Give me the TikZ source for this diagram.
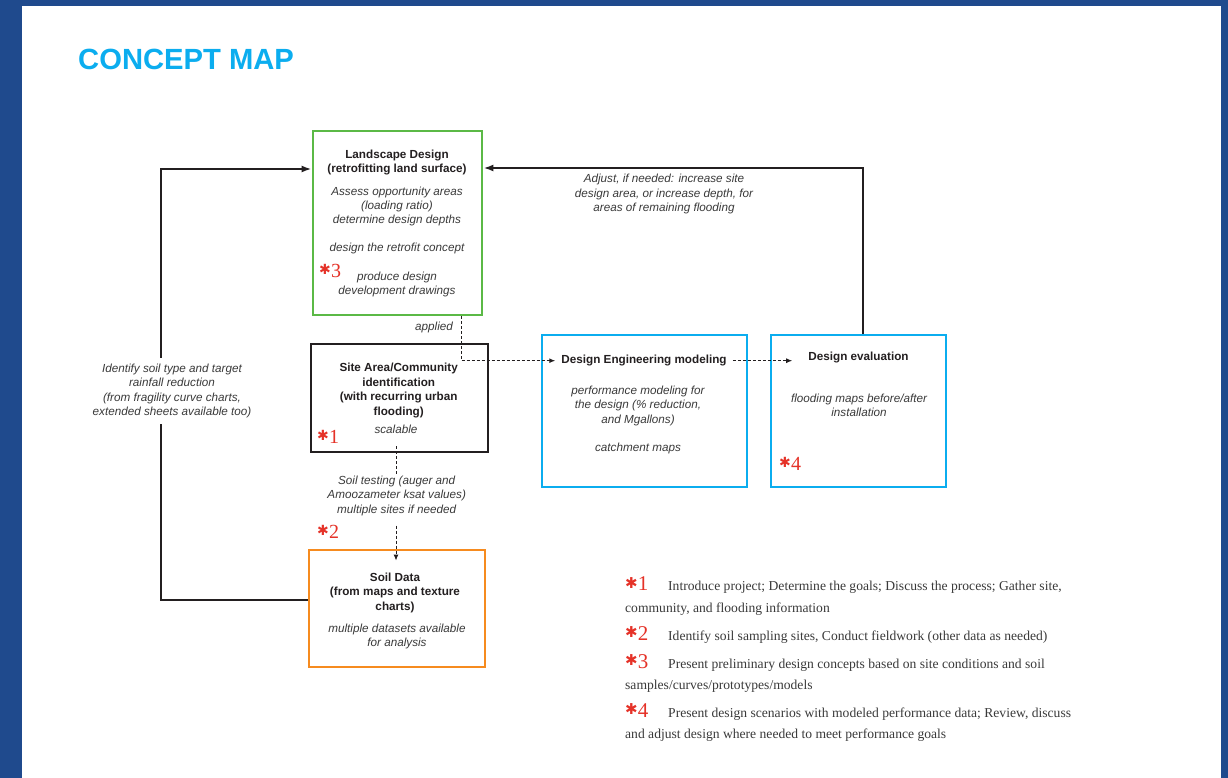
\documentclass[tikz,border=0pt]{standalone}
\usepackage{fontspec}
\setmainfont{Liberation Serif}
\newfontfamily\arial{Liberation Sans}
\newfontfamily\dejavu{DejaVu Sans}
\usetikzlibrary{arrows.meta,calc}
\definecolor{frameblue}{HTML}{1F4A8D}
\definecolor{cyanb}{HTML}{0BADEF}
\definecolor{greenb}{HTML}{5BB946}
\definecolor{orangeb}{HTML}{F68B1F}
\definecolor{ink}{HTML}{231F20}
\definecolor{gray1}{HTML}{3A3A3A}
\definecolor{starred}{HTML}{E53228}
\definecolor{legink}{HTML}{3A3A3A}
\newcommand{\boxstar}[1]{{\color{starred}\raisebox{2.2pt}{\dejavu\fontsize{14}{14}\selectfont ✱}\kern0.2pt\fontsize{20}{20}\selectfont #1}}
\newcommand{\legstar}[1]{\makebox[38pt][l]{\color{starred}\kern-5pt\raisebox{2.4pt}{\dejavu\fontsize{15}{15}\selectfont ✱}\kern0.2pt\fontsize{21}{21}\selectfont #1}}
\begin{document}
\begin{tikzpicture}[x=1pt,y=-1pt,
  boxnode/.style={line width=2.8pt, inner sep=0, rectangle},
  hd/.style={font=\arial\bfseries\fontsize{11.7}{14.5}\selectfont, align=center, text=ink, inner sep=0},
  itx/.style={font=\arial\itshape\fontsize{11.7}{14.2}\selectfont, align=center, text=gray1, inner sep=0},
  dashln/.style={draw=ink, line width=1pt, dash pattern=on 3pt off 2pt},
  dasharr/.style={dashln, -{Latex[length=6pt,width=5pt]}},
  fb/.style={draw=ink, line width=2pt},
  fbarr/.style={fb, -{Latex[length=10pt,width=7pt]}},
  legline/.style={font=\fontsize{13.6}{16}\selectfont, text=legink, anchor=base west, inner sep=0},
  starnode/.style={inner sep=0, anchor=base west}]
\useasboundingbox (0,0) rectangle (1228,778);
\fill[frameblue] (0,0) rectangle (1228,778);
\fill[white] (22,6) rectangle (1221,778);
\node[anchor=base west, inner sep=0, text=cyanb, font=\arial\bfseries\fontsize{29.2}{30}\selectfont] (title) at (78,69.3) {CONCEPT MAP};

% boxes
\node[boxnode, draw=greenb, minimum width=169pt, minimum height=184pt] (green) at (397.5,223) {};
\node[boxnode, draw=ink, minimum width=177pt, minimum height=108pt] (site) at (399.5,398) {};
\node[boxnode, draw=orangeb, minimum width=176pt, minimum height=117pt] (soil) at (397,608.5) {};
\node[boxnode, draw=cyanb, minimum width=205pt, minimum height=152pt] (eng) at (644.5,411) {};
\node[boxnode, draw=cyanb, minimum width=175pt, minimum height=152pt] (eval) at (858.5,411) {};

% green box text
\node[hd] (greenT) at (397,162.5) {Landscape Design\\(retrofitting land surface)};
\node[itx] (greenA) at (397,206.5) {Assess opportunity areas\\(loading ratio)\\determine design depths};
\node[itx] (greenB) at (397,248) {design the retrofit concept};
\node[itx] (greenC) at (397,284.5) {produce design\\development drawings};
\node[starnode] (s3) at (319,277) {\boxstar{3}};

% site box text
\node[hd] (siteT) at (398.7,390.3) {Site Area/Community\\identification\\(with recurring urban\\flooding)};
\node[itx] (siteA) at (396,429.3) {scalable};
\node[starnode] (s1) at (317,443) {\boxstar{1}};

% soil testing label
\node[itx] (soilLbl) at (396.7,495.8) {Soil testing (auger and\\Amoozameter ksat values)\\multiple sites if needed};
\node[starnode] (s2) at (317,538) {\boxstar{2}};

% soil box text
\node[hd] (soilT) at (395,592.6) {Soil Data\\(from maps and texture\\charts)};
\node[itx] (soilA) at (397,636.7) {multiple datasets available\\for analysis};

% engineering box text
\node[hd, inner xsep=6pt] (engT) at (644,360.7) {Design Engineering modeling};
\node[itx] (engA) at (638,405.9) {performance modeling for\\the design (\% reduction,\\and Mgallons)};
\node[itx] (engB) at (638,448.3) {catchment maps};

% evaluation box text
\node[hd, inner xsep=6pt] (evalT) at (858.5,357.7) {Design evaluation};
\node[itx] (evalA) at (859,405.3) {flooding maps before/after\\installation};
\node[starnode] (s4) at (779,470) {\boxstar{4}};

% labels
\node[itx] (appl) at (434,327.3) {applied};
\node[itx] (adj) at (664,194) {Adjust, if needed: increase site\\design area, or increase depth, for\\areas of remaining flooding};

% connectors
\coordinate (ax) at (461,0);
\draw[dasharr] (green.south -| ax) |- (engT.west);
\draw[dasharr, shorten >=10pt] (engT.east) -- (engT.east -| evalT.west);
\coordinate (fbR) at (863,168);
\draw[fbarr] (eval.north -| fbR) -- (fbR) -- (green.east |- fbR);
\coordinate (fbB) at (161,600);
\coordinate (fbL) at (161,169);
\draw[fbarr] (soil.west |- fbB) -- (fbB) -- (fbL) -- (green.west |- fbL);
\node[itx, fill=white, inner xsep=2pt, inner ysep=6pt] (leftLbl) at (172,391) {Identify soil type and target\\rainfall reduction\\(from fragility curve charts,\\extended sheets available too)};
\coordinate (dx) at (396,0);
\draw[dashln] ($(site.south -| dx)+(0,-7)$) -- (soilLbl.north -| dx);
\draw[dasharr] ($(soilLbl.south -| dx)+(0,10)$) -- ($(soil.north -| dx)+(0,12)$);

% legend
\node[legline] (l1a) at (630,590.7) {\legstar{1}Introduce project; Determine the goals; Discuss the process; Gather site,};
\node[legline] (l1b) at (625,612) {community, and flooding information};
\node[legline] (l2a) at (630,640) {\legstar{2}Identify soil sampling sites, Conduct fieldwork (other data as needed)};
\node[legline] (l3a) at (630,668) {\legstar{3}Present preliminary design concepts based on site conditions and soil};
\node[legline] (l3b) at (625,689) {samples/curves/prototypes/models};
\node[legline] (l4a) at (630,717) {\legstar{4}Present design scenarios with modeled performance data; Review, discuss};
\node[legline] (l4b) at (625,738) {and adjust design where needed to meet performance goals};
\end{tikzpicture}
\end{document}
